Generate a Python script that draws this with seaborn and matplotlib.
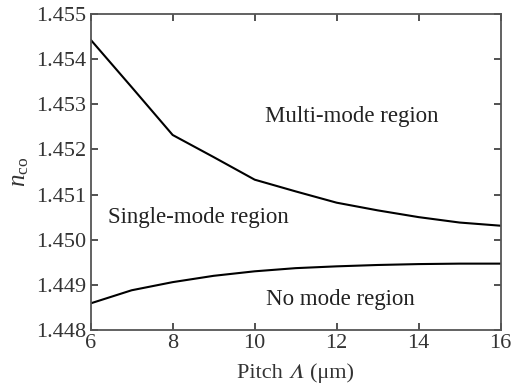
import numpy as np
import pandas as pd
import matplotlib
matplotlib.use("Agg")
import matplotlib.pyplot as plt
import seaborn as sns

# values
pitch = [6, 7, 8, 9, 10, 11, 12, 13, 14, 15, 16]
n_upper = [1.45443, 1.45338, 1.45232, 1.45183, 1.45133, 1.45107, 1.45082, 1.45065, 1.45050, 1.45038, 1.45031]
n_lower = [1.44859, 1.44888, 1.44906, 1.44920, 1.44930, 1.44937, 1.44941, 1.44944, 1.44946, 1.44947, 1.44947]

region_labels = ["Multi-mode region", "Single-mode region", "No mode region"]
label_x = [10.25, 6.42, 10.28]
label_y = [1.45272, 1.45050, 1.44867]

df = pd.DataFrame({
    "pitch": pitch * 2,
    "n": n_upper + n_lower,
    "curve": ["upper"] * len(pitch) + ["lower"] * len(pitch),
})

sns.set_style("ticks")
# STIXGeneral ships with matplotlib, used for the italic capital lambda
plt.rcParams["font.family"] = ["Liberation Serif", "STIXGeneral", "DejaVu Serif"]
plt.rcParams["mathtext.fontset"] = "custom"
plt.rcParams["mathtext.rm"] = "Liberation Serif"
plt.rcParams["mathtext.it"] = "Liberation Serif:italic"

fig = plt.figure(figsize=(5.18, 3.89), dpi=100)
ax = fig.add_axes([0.175, 0.1517, 0.7916, 0.8123])

sns.lineplot(data=df, x="pitch", y="n", units="curve", estimator=None,
             color="black", lw=1.5, ax=ax, legend=False)

for txt, tx, ty in zip(region_labels, label_x, label_y):
    ax.text(tx, ty, txt, fontsize=16.5, va="center", ha="left", color="#222222")

ax.set_xlim(6, 16)
ax.set_ylim(1.448, 1.455)
ax.set_xticks(np.arange(6, 17, 2))
ax.set_yticks(np.arange(1.448, 1.4551, 0.001))
ax.set_yticklabels([f"{v:.3f}" for v in np.arange(1.448, 1.4551, 0.001)])
ax.tick_params(direction="in", length=5, width=1.2, top=True, right=True,
               labelsize=16, colors="#333333", pad=3)
for s in ax.spines.values():
    s.set_linewidth(1.3)
    s.set_color("#555555")

ax.set_xlabel("Pitch \U0001D6EC (μm)", fontsize=16, color="#333333", labelpad=7)
ax.set_ylabel(r"$n_{\mathrm{co}}$", fontsize=18, color="#333333", labelpad=4)

fig.savefig("out.png", dpi=100)
